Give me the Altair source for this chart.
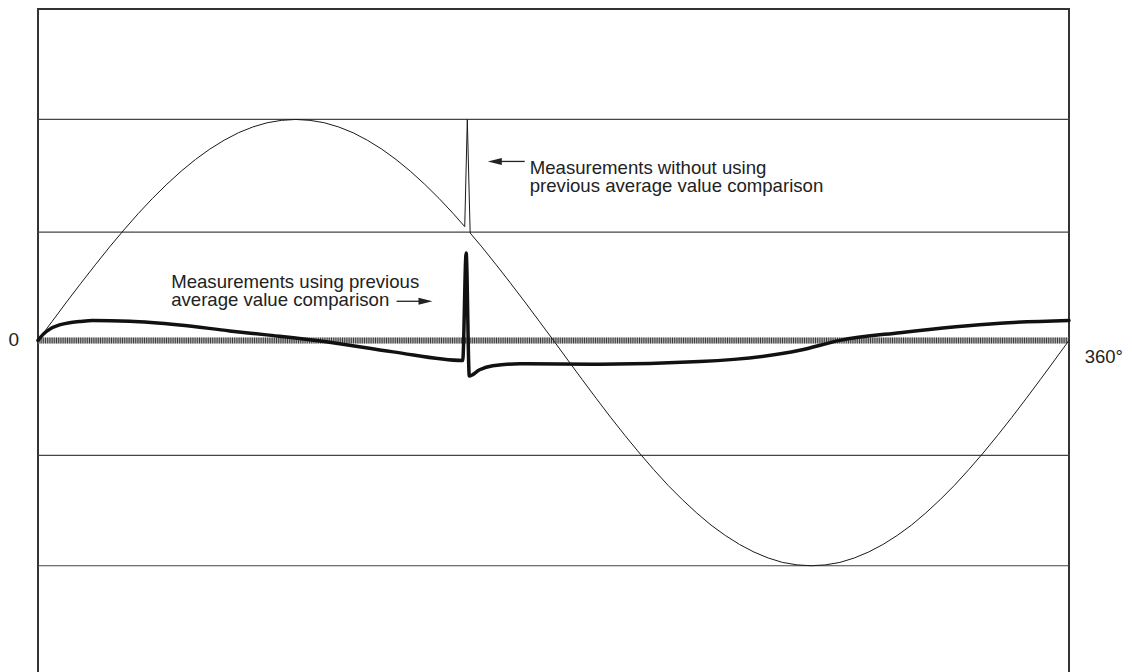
import altair as alt
import pandas as pd

# ---- data (x in degrees, y in units of the sine amplitude) ----
sine_deg = [0, 5, 10, 15, 20, 25, 30, 35, 40, 45, 50, 55, 60, 65, 70, 75, 80, 85, 90,
            95, 100, 105, 110, 115, 120, 125, 130, 135, 140, 145, 149.0, 149.9, 150.9,
            155, 160, 165, 170, 175, 180, 185, 190, 195, 200, 205, 210, 215, 220, 225, 230,
            235, 240, 245, 250, 255, 260, 265, 270, 275, 280, 285, 290, 295, 300, 305, 310,
            315, 320, 325, 330, 335, 340, 345, 350, 355, 360]
sine_val = [0, 0.087, 0.174, 0.259, 0.342, 0.423, 0.5, 0.574, 0.643, 0.707, 0.766, 0.819, 0.866,
            0.906, 0.94, 0.966, 0.985, 0.996, 1.0,
            0.996, 0.985, 0.966, 0.94, 0.906, 0.866, 0.819, 0.766, 0.707, 0.643, 0.574, 0.515,
            1.0, 0.486,
            0.423, 0.342, 0.259, 0.174, 0.087, 0.0, -0.089, -0.177, -0.264, -0.349, -0.431,
            -0.51, -0.585, -0.656, -0.721, -0.781, -0.836, -0.883, -0.924, -0.958, -0.985,
            -1.005, -1.016, -1.02, -1.016, -1.005, -0.985, -0.958, -0.924, -0.883, -0.836,
            -0.781, -0.721, -0.656, -0.585, -0.51, -0.431, -0.349, -0.264, -0.177, -0.089, 0.0]

avg_deg = [0, 2, 4, 7.5, 11, 14.5, 19, 32, 49.4, 66.9, 79.8, 100, 124, 148.3, 149.5, 150.6,
           154.2, 158.8, 168.2, 196.2, 231.1, 266, 280, 301, 336, 360]
avg_val = [0, 0.03, 0.05, 0.070, 0.080, 0.085, 0.09, 0.087, 0.070, 0.043, 0.025, -0.005, -0.052,
           -0.091, 0.396, -0.161, -0.133, -0.115, -0.106, -0.108, -0.096, -0.045, 0.0, 0.035,
           0.078, 0.09]

grid_vals = [1.0, 0.49, -0.52, -1.02]

note_text = ["Measurements without using\nprevious average value comparison",
             "Measurements using previous\naverage value comparison"]
note_x = [171.7, 46.5]
note_y = [0.752, 0.237]

arrow_x = [159.5, 125.2]
arrow_x2 = [169.96, 135.3]
arrow_head_x = [159.5, 135.3]
arrow_y = [0.81, 0.177]
arrow_shape = ["M -1 0 L 1 -0.5 L 1 0.5 Z", "M 1 0 L -1 -0.5 L -1 0.5 Z"]

label_text = ["0", "360°"]
label_x = [-8.5, 365.5]
label_y = [0.0, -0.077]

FONT = "Liberation Sans"

xs = alt.Scale(domain=[0, 360], nice=False, zero=False)
ys = alt.Scale(domain=[-1.51, 1.5], nice=False, zero=False)

def X(f):
    return alt.X(f, type="quantitative", scale=xs, axis=None)

def Y(f):
    return alt.Y(f, type="quantitative", scale=ys, axis=None)

grid_df = pd.DataFrame({"v": grid_vals})
zero_df = pd.DataFrame({"v": [0.0]})
sine_df = pd.DataFrame({"d": sine_deg, "v": sine_val, "o": range(len(sine_deg))})
avg_df = pd.DataFrame({"d": avg_deg, "v": avg_val, "o": range(len(avg_deg))})
note_df = pd.DataFrame({"t": note_text, "x": note_x, "y": note_y})
arrow_df = pd.DataFrame({"x": arrow_x, "x2": arrow_x2, "hx": arrow_head_x, "y": arrow_y, "s": arrow_shape})
lab_df = pd.DataFrame({"t": label_text, "x": label_x, "y": label_y})

grid = alt.Chart(grid_df).mark_rule(color="#444444", strokeWidth=1.2).encode(y=Y("v"))

zero_base = alt.Chart(zero_df).mark_rule(color="#b5b5b5", strokeWidth=6).encode(y=Y("v"))
zero_hatch = alt.Chart(zero_df).mark_rule(color="#3a3a3a", strokeWidth=6, strokeDash=[1, 1.2]).encode(y=Y("v"))

sine = alt.Chart(sine_df).mark_line(color="#1a1a1a", strokeWidth=1).encode(
    x=X("d"), y=Y("v"), order="o:Q")

avg = alt.Chart(avg_df).mark_line(color="#111111", strokeWidth=3.5, interpolate="monotone",
                                  strokeJoin="round", strokeCap="round").encode(
    x=X("d"), y=Y("v"), order="o:Q")

notes = alt.Chart(note_df).mark_text(align="left", baseline="alphabetic", font=FONT, fontSize=18.6,
                                     lineBreak="\n", lineHeight=18, color="#222222").encode(
    x=X("x"), y=Y("y"), text="t:N")

shafts = alt.Chart(arrow_df).mark_rule(color="#222222", strokeWidth=1.3).encode(
    x=X("x"), x2="x2:Q", y=Y("y"))
heads = alt.Chart(arrow_df).mark_point(filled=True, color="#222222", opacity=1, size=196, strokeWidth=0).encode(
    x=X("hx"), y=Y("y"), shape=alt.Shape("s:N", scale=None))

labels0 = alt.Chart(lab_df.iloc[[0]]).mark_text(align="center", baseline="middle", font=FONT,
                                                 fontSize=19, color="#222222").encode(
    x=X("x"), y=Y("y"), text="t:N")
labels1 = alt.Chart(lab_df.iloc[[1]]).mark_text(align="left", baseline="middle", font=FONT,
                                                 fontSize=18.5, color="#222222").encode(
    x=X("x"), y=Y("y"), text="t:N")

chart = alt.layer(grid, zero_base, zero_hatch, sine, avg, shafts, heads, notes, labels0, labels1).properties(
    width=1031, height=665,
    autosize=alt.AutoSizeParams(type="none"),
    padding={"left": 30, "top": 1, "right": 55, "bottom": 0},
).configure_view(stroke="#333333", strokeWidth=2)

chart.save("out.html", embed_options={"renderer": "svg", "actions": False})
